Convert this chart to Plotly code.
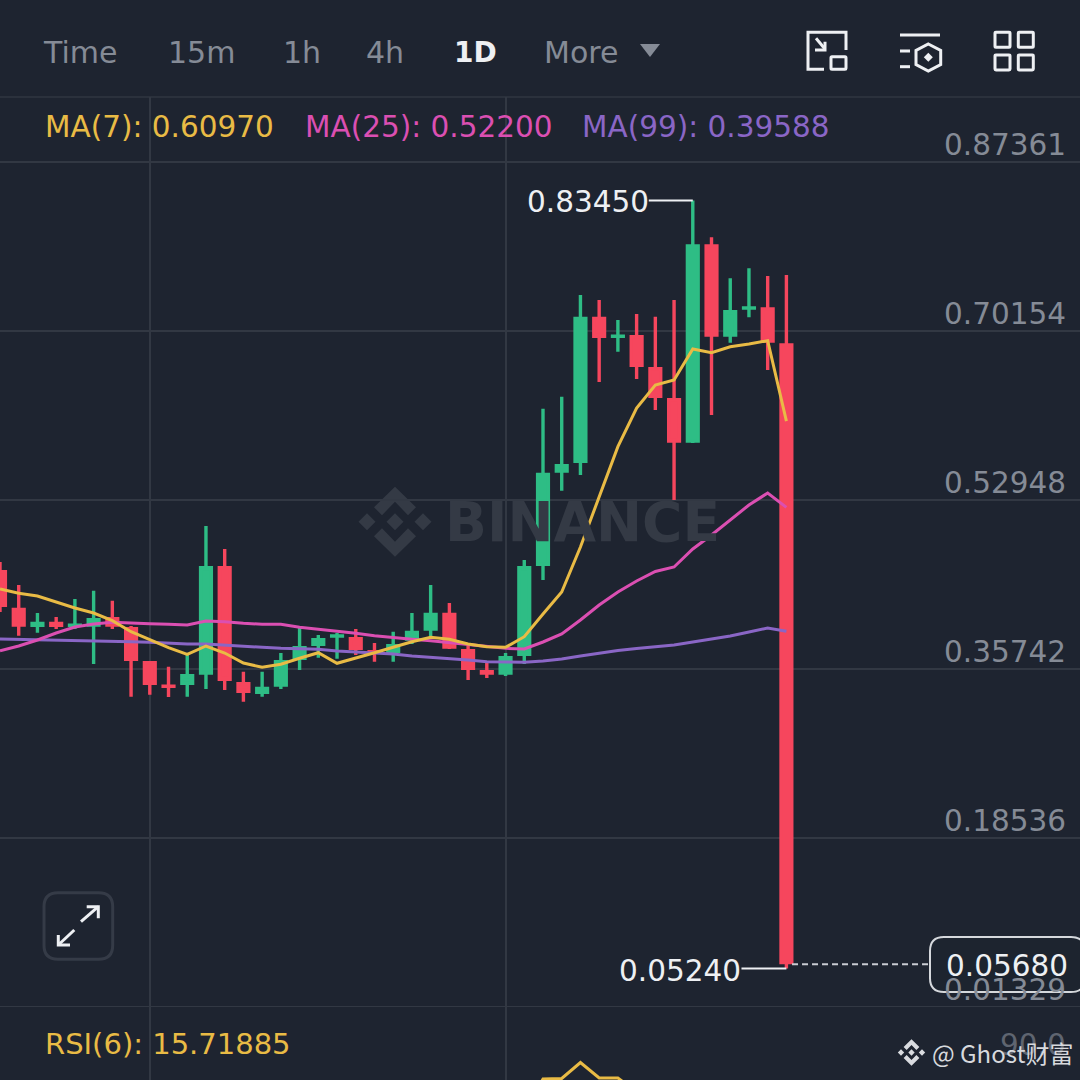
import plotly.graph_objects as go

BG = "#1E2430"
GRID = "#323843"
GRAY = "#858B96"
WHITE = "#EEF0F3"
GREEN = "#2EBD85"
RED = "#F6465D"
YELLOW = "#E9BB45"
PINK = "#DB4FB2"
PURPLE = "#8A66C6"
MARK = "#343A45"
FONT = "DejaVu Sans"

# daily candles
opens = [0.45651, 0.41813, 0.40188, 0.40388, 0.40180, 0.40219, 0.40866, 0.39848, 0.36386, 0.33980, 0.34283,
         0.35332, 0.46059, 0.34248, 0.33367, 0.34110, 0.36828, 0.38254, 0.39096, 0.38829, 0.37508, 0.37541,
         0.38793, 0.39811, 0.41304, 0.37608, 0.35470, 0.35332, 0.37235, 0.46399, 0.55898, 0.56886, 0.71441,
         0.69605, 0.69577, 0.66319, 0.63164, 0.58952, 0.78812, 0.69744, 0.72492, 0.72397, 0.68733]
highs = [0.46636, 0.44294, 0.41443, 0.41036, 0.42869, 0.43714, 0.42696, 0.40120, 0.36556, 0.35976, 0.37167,
         0.50301, 0.47960, 0.35467, 0.35467, 0.37371, 0.40120, 0.39203, 0.39407, 0.39814, 0.38389, 0.39539,
         0.41443, 0.44294, 0.42462, 0.38084, 0.36383, 0.37371, 0.46840, 0.62244, 0.63466, 0.73820, 0.73311,
         0.71275, 0.71886, 0.71611, 0.73311, 0.83450, 0.79694, 0.75521, 0.76538, 0.75761, 0.75857]
lows = [0.41545, 0.39132, 0.39438, 0.39814, 0.39814, 0.36251, 0.39814, 0.32922, 0.33125, 0.32891, 0.32922,
        0.33706, 0.33604, 0.32413, 0.32922, 0.33706, 0.35640, 0.36892, 0.36791, 0.37167, 0.36485, 0.36485,
        0.38287, 0.39030, 0.37778, 0.34622, 0.34826, 0.35029, 0.36251, 0.44803, 0.53896, 0.55495, 0.64962,
        0.68048, 0.65267, 0.62112, 0.52948, 0.58752, 0.61603, 0.68963, 0.71550, 0.66184, 0.05240]
closes = [0.42224, 0.40219, 0.40388, 0.40188, 0.40190, 0.40764, 0.40219, 0.36726, 0.34283, 0.33970, 0.35063,
          0.46059, 0.34690, 0.33468, 0.33770, 0.36488, 0.37914, 0.38728, 0.39106, 0.37847, 0.37498, 0.38117,
          0.39471, 0.41304, 0.37979, 0.35810, 0.35332, 0.36895, 0.46059, 0.55558, 0.56444, 0.71441, 0.69612,
          0.69615, 0.66659, 0.63504, 0.58952, 0.78812, 0.69744, 0.72123, 0.72502, 0.69133, 0.05850]
last_price = 0.05680

ma7 = [0.43887, 0.43449, 0.43174, 0.42563, 0.41952, 0.41443, 0.40659, 0.39539, 0.38694, 0.37911, 0.37239,
       0.38084, 0.37371, 0.36353, 0.35915, 0.36221, 0.36831, 0.37401, 0.36322, 0.36831, 0.37401, 0.37951,
       0.38521, 0.38969, 0.38765, 0.38287, 0.38012, 0.37951, 0.39030, 0.41341, 0.43581, 0.48163, 0.53355,
       0.58374, 0.62315, 0.64656, 0.65165, 0.68322, 0.67945, 0.68556, 0.68830, 0.69167, 0.60970]
ma25 = [0.37605, 0.38084, 0.38694, 0.39407, 0.40018, 0.40323, 0.40496, 0.40456, 0.40354, 0.40293, 0.40222,
        0.40629, 0.40558, 0.40395, 0.40293, 0.40293, 0.39987, 0.39784, 0.39611, 0.39377, 0.39132, 0.38929,
        0.38765, 0.38623, 0.38419, 0.38185, 0.38012, 0.37849, 0.37778, 0.38491, 0.39305, 0.40731, 0.42258,
        0.43581, 0.44701, 0.45669, 0.46127, 0.47960, 0.49385, 0.50912, 0.52439, 0.53661, 0.52200]
ma99 = [0.38796, 0.38765, 0.38725, 0.38694, 0.38664, 0.38623, 0.38623, 0.38521, 0.38460, 0.38358, 0.38287,
        0.38287, 0.38155, 0.38084, 0.37951, 0.37849, 0.37809, 0.37748, 0.37575, 0.37473, 0.37401, 0.37269,
        0.37065, 0.36933, 0.36831, 0.36658, 0.36485, 0.36424, 0.36424, 0.36556, 0.36760, 0.37065, 0.37371,
        0.37625, 0.37829, 0.38033, 0.38185, 0.38491, 0.38796, 0.39102, 0.39509, 0.39916, 0.39588]

rsi_days = [28, 29, 30, 31, 32, 33, 34]
rsi = [70, 83.2, 83.4, 89.8, 83.6, 83.6, 78]

price_ticks = [0.87361, 0.70154, 0.52948, 0.35742, 0.18536, 0.01329]
price_labels = ["0.87361", "0.70154", "0.52948", "0.35742", "0.18536", "0.01329"]
grid_days = [8, 27]

days = list(range(len(opens)))


def px(x):
    return x / 1080


def py(y):
    return 1 - y / 1080


def poly(points, close=False):
    s = "M " + " L ".join(f"{px(x):.5f},{py(y):.5f}" for x, y in points)
    return s + " Z" if close else s


def rounded(x0, y0, x1, y1, r):
    return (f"M {px(x0 + r):.5f},{py(y0):.5f} L {px(x1 - r):.5f},{py(y0):.5f} "
            f"Q {px(x1):.5f},{py(y0):.5f} {px(x1):.5f},{py(y0 + r):.5f} L {px(x1):.5f},{py(y1 - r):.5f} "
            f"Q {px(x1):.5f},{py(y1):.5f} {px(x1 - r):.5f},{py(y1):.5f} L {px(x0 + r):.5f},{py(y1):.5f} "
            f"Q {px(x0):.5f},{py(y1):.5f} {px(x0):.5f},{py(y1 - r):.5f} L {px(x0):.5f},{py(y0 + r):.5f} "
            f"Q {px(x0):.5f},{py(y0):.5f} {px(x0 + r):.5f},{py(y0):.5f} Z")


def stroke(path, color=WHITE, width=3, layer="above"):
    return dict(type="path", xref="paper", yref="paper", path=path, layer=layer,
                line=dict(color=color, width=width))


def fill(path, color, layer="above"):
    return dict(type="path", xref="paper", yref="paper", path=path, layer=layer,
                fillcolor=color, line=dict(width=0))


def logo(cx, cy, s, color, layer):
    # binance mark, built around its centre
    out = []
    for dx in (-28, 0, 28):
        pts = [(cx + (dx - 8.5) * s, cy), (cx + dx * s, cy - 8.5 * s), (cx + (dx + 8.5) * s, cy), (cx + dx * s, cy + 8.5 * s)]
        out.append(fill(poly(pts, True), color, layer))
    for sign in (-1, 1):
        pts = [(0, 35), (21, 14.5), (13, 6.5), (0, 20), (-13, 6.5), (-21, 14.5)]
        out.append(fill(poly([(cx + a * s, cy + sign * b * s) for a, b in pts], True), color, layer))
    return out


def label(x, y, text, color=GRAY, size=29.5, xanchor="left", bold=False, family=FONT):
    return dict(xref="paper", yref="paper", x=px(x), y=py(y), text=f"<b>{text}</b>" if bold else text, showarrow=False,
                xanchor=xanchor, yanchor="middle", font=dict(family=family, size=size, color=color),
                borderpad=0, borderwidth=0)


fig = go.Figure()

fig.add_trace(go.Candlestick(
    x=days, open=opens, high=highs, low=lows, close=closes, xaxis="x", yaxis="y",
    increasing=dict(line=dict(color=GREEN, width=3.4), fillcolor=GREEN),
    decreasing=dict(line=dict(color=RED, width=3.4), fillcolor=RED),
    whiskerwidth=0, showlegend=False, hoverinfo="skip",
))
for values, color in [(ma99, PURPLE), (ma25, PINK), (ma7, YELLOW)]:
    fig.add_trace(go.Scatter(x=days, y=values, mode="lines", line=dict(color=color, width=3),
                             showlegend=False, hoverinfo="skip"))
fig.add_trace(go.Scatter(x=rsi_days, y=rsi, mode="lines", yaxis="y2", line=dict(color=YELLOW, width=3),
                         showlegend=False, hoverinfo="skip"))

shapes = []
shapes += logo(395, 521.7, 1, MARK, "below")
shapes.append(dict(type="line", xref="paper", yref="paper", x0=0, x1=1, y0=py(97), y1=py(97),
                   line=dict(color="#2B313C", width=2), layer="below"))
shapes.append(dict(type="line", xref="paper", yref="y", x0=0, x1=1, y0=price_ticks[-1], y1=price_ticks[-1],
                   line=dict(color=GRID, width=2), layer="below"))

# high / low callouts and last price line
shapes.append(dict(type="line", xref="x", yref="y", x0=34.65, x1=37, y0=highs[37], y1=highs[37],
                   line=dict(color=WHITE, width=2)))
shapes.append(dict(type="line", xref="x", yref="y", x0=39.6, x1=42, y0=lows[42], y1=lows[42],
                   line=dict(color=WHITE, width=2)))
shapes.append(dict(type="line", xref="x", yref="y", x0=42.3, x1=49.7, y0=last_price, y1=last_price,
                   line=dict(color="#C9CCD2", width=2, dash="6px,4px")))
shapes.append(dict(type="path", xref="paper", yref="paper", path=rounded(930, 937, 1085, 992, 14),
                   fillcolor="rgba(30,36,48,0.55)", line=dict(color="#D5D8DC", width=2)))

# expand button
shapes.append(stroke(rounded(44, 892.7, 112.7, 959.3, 14), "#353B47", 3))
shapes.append(stroke(poly([(81, 921.7), (98.3, 906.7)])))
shapes.append(stroke(poly([(86.7, 906.7), (98.3, 906.7), (98.3, 918.3)])))
shapes.append(stroke(poly([(74.3, 930), (58.3, 945)])))
shapes.append(stroke(poly([(58.3, 935), (58.3, 945), (70, 945)])))

# toolbar icons
shapes.append(fill(poly([(640, 44), (660, 44), (650, 57)], True), GRAY))
shapes.append(stroke(poly([(824, 69.3), (808, 69.3), (808, 32.3), (846, 32.3), (846, 50)])))
shapes.append(stroke(rounded(831, 56.7, 846, 69.3, 1)))
shapes.append(stroke(poly([(816, 38.3), (825, 49)])))
shapes.append(stroke(poly([(825, 41.7), (825, 50), (815, 50)])))
shapes.append(stroke(poly([(900, 35), (940, 35)])))
shapes.append(stroke(poly([(900, 51), (910, 51)])))
shapes.append(stroke(poly([(900, 66.7), (910, 66.7)])))
shapes.append(stroke(poly([(928.3, 44), (940.7, 50.5), (940.7, 64.5), (928.3, 71), (916, 64.5), (916, 50.5)], True)))
shapes.append(fill(poly([(923.8, 57.3), (928.3, 52.8), (932.8, 57.3), (928.3, 61.8)], True), WHITE))
for x0 in (995, 1018.3):
    for y0 in (32.3, 55):
        shapes.append(stroke(rounded(x0, y0, x0 + 15, y0 + 15, 1)))

shapes += logo(911.5, 1052.5, 0.375, "#DADCE0", "above")

annotations = []
for name, x, color, bold in [("Time", 43, GRAY, False), ("15m", 168, GRAY, False), ("1h", 283, GRAY, False),
                             ("4h", 366, GRAY, False), ("1D", 454, WHITE, True), ("More", 544, GRAY, False)]:
    annotations.append(label(x, 52, name, color, 28 if bold else 30, bold=bold))

annotations.append(label(45, 127, "MA(7): 0.60970", YELLOW))
annotations.append(label(305, 127, "MA(25): 0.52200", PINK))
annotations.append(label(582, 127, "MA(99): 0.39588", PURPLE))
annotations.append(label(45, 1044, "RSI(6): 15.71885", YELLOW, 29))

for value, text in zip(price_ticks, price_labels):
    annotations.append(dict(xref="paper", yref="y", x=px(1068), y=value, yshift=-2, text=text, showarrow=False,
                            xanchor="right", yanchor="bottom", font=dict(family=FONT, size=29.5, color=GRAY)))
annotations.append(dict(xref="paper", yref="y2", x=px(1068), y=90, yshift=-2, text="90.0", showarrow=False,
                        xanchor="right", yanchor="bottom", font=dict(family=FONT, size=29.5, color="#5F6570")))

annotations.append(dict(xref="x", yref="y", x=34.75, y=highs[37], yshift=-2, text="0.83450", showarrow=False,
                        xanchor="right", yanchor="middle", font=dict(family=FONT, size=29.5, color=WHITE)))
annotations.append(dict(xref="x", yref="y", x=39.7, y=lows[42], yshift=-2, text="0.05240", showarrow=False,
                        xanchor="right", yanchor="middle", font=dict(family=FONT, size=29.5, color=WHITE)))
annotations.append(label(1068, 966, "0.05680", WHITE, xanchor="right"))
annotations.append(label(582, 522, "BINANCE", MARK, 55, xanchor="center", bold=True))
annotations.append(label(932, 1052, "@ Ghost财富", "#D7D9DD", 24, family="Noto Sans CJK SC"))

fig.update_layout(
    width=1080, height=1080, margin=dict(l=0, r=0, t=0, b=0),
    paper_bgcolor=BG, plot_bgcolor=BG, showlegend=False, boxgap=0.18,
    shapes=shapes, annotations=annotations,
    xaxis=dict(range=[-0.0, 57.68], tickvals=grid_days, showticklabels=False, showgrid=True, gridcolor=GRID,
               gridwidth=2, zeroline=False, showline=False, ticks="", rangeslider=dict(visible=False),
               anchor="y2", fixedrange=True),
    yaxis=dict(domain=[73 / 1080, 983 / 1080], range=[0.01329, 0.93979], tickvals=price_ticks, showticklabels=False,
               showgrid=True, gridcolor=GRID, gridwidth=2, zeroline=False, showline=False, ticks="", fixedrange=True),
    yaxis2=dict(domain=[0, 73 / 1080], range=[82.8, 112], showticklabels=False, showgrid=False, zeroline=False,
                showline=False, ticks="", fixedrange=True),
)

fig.write_html("out.html", config=dict(displayModeBar=False),
               post_script="document.body.style.margin='0';document.body.style.overflow='hidden';")
